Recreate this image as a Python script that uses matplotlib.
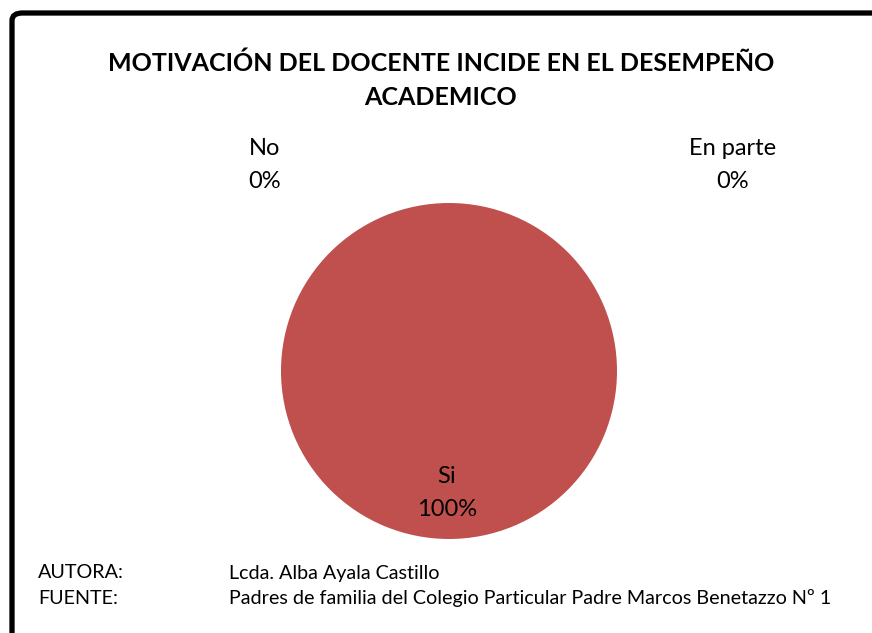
import matplotlib
matplotlib.use("Agg")
import matplotlib.pyplot as plt
from matplotlib.patches import FancyBboxPatch

# Survey data
categories = ["Si", "No", "En parte"]
values = [100, 0, 0]
colors = ["#C0504D", "#4F81BD", "#9BBB59"]

title = "MOTIVACIÓN DEL DOCENTE INCIDE EN EL DESEMPEÑO\nACADEMICO"
footer_keys = ["AUTORA:", "FUENTE:"]
footer_vals = ["Lcda. Alba Ayala Castillo",
               "Padres de familia del Colegio Particular Padre Marcos Benetazzo Nº 1"]

W, H = 872, 633
fig = plt.figure(figsize=(W / 100, H / 100), dpi=100)
fig.patch.set_facecolor("white")
font = "Lato"

# Chart frame (left and top edges visible)
frame = FancyBboxPatch((12 / W, -0.2), 1.2, 1 - 13 / H + 0.2,
                       boxstyle="round,pad=0,rounding_size=0.012",
                       transform=fig.transFigure, fill=False,
                       edgecolor="black", linewidth=3.8, clip_on=False)
fig.patches.append(frame)

fig.text(441 / W, 1 - 80 / H, title, ha="center", va="center",
         fontsize=18, fontweight="bold", family=font, linespacing=1.6)

# Pie
cx, cy, r = 449, 371, 168
ax = fig.add_axes([(cx - r) / W, (H - cy - r) / H, 2 * r / W, 2 * r / H])
ax.pie(values, colors=colors, startangle=90, counterclock=False,
       radius=1.0, wedgeprops=dict(linewidth=0))
ax.set_xlim(-1, 1)
ax.set_ylim(-1, 1)
ax.set_aspect("equal")
ax.axis("off")

total = sum(values)
label_pos = {"Si": (447, 493), "No": (265, 165), "En parte": (733, 165)}
for cat, v in zip(categories, values):
    x, y = label_pos[cat]
    fig.text(x / W, 1 - y / H, f"{cat}\n{v / total * 100:.0f}%",
             ha="center", va="center", fontsize=17, family=font,
             linespacing=1.75)

for i, (k, v) in enumerate(zip(footer_keys, footer_vals)):
    y = 573 + i * 25
    fig.text(38 / W, 1 - y / H, k, ha="left", va="center",
             fontsize=14.2, family=font)
    fig.text(229 / W, 1 - y / H, v, ha="left", va="center",
             fontsize=14.2, family=font)

fig.savefig("out.png", dpi=100)
